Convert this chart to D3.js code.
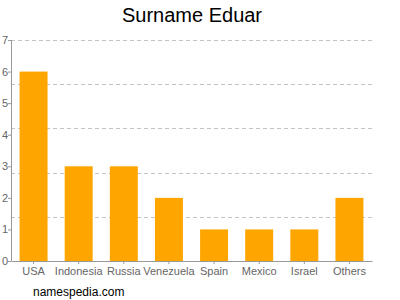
<!DOCTYPE html>
<html>
<head>
<meta charset="utf-8">
<script src="https://cdn.jsdelivr.net/npm/d3@7"></script>
<style>
body { margin: 0; background: #fff; }
svg { font-family: "Liberation Sans", Arial, sans-serif; }
</style>
</head>
<body>
<script>
var countries = ["USA", "Indonesia", "Russia", "Venezuela", "Spain", "Mexico", "Israel", "Others"];
var counts = [6, 3, 3, 2, 1, 1, 1, 2];
var yTicks = [0, 1, 2, 3, 4, 5, 6, 7];
var gridLines = [1.4, 2.8, 4.2, 5.6, 7];

var margin = { top: 40, right: 28, bottom: 39, left: 11 },
    width = 400 - margin.left - margin.right,
    height = 300 - margin.top - margin.bottom;

var svg = d3.select("body").append("svg")
    .attr("width", 400)
    .attr("height", 300);

svg.append("text")
    .attr("x", 192)
    .attr("y", 22)
    .attr("text-anchor", "middle")
    .style("font-size", "20px")
    .style("fill", "#000")
    .text("Surname Eduar");

var g = svg.append("g")
    .attr("transform", "translate(" + margin.left + "," + margin.top + ")");

var x = d3.scaleBand()
    .domain(countries)
    .range([0, width])
    .paddingInner(0.38)
    .paddingOuter(0.19);

var y = d3.scaleLinear()
    .domain([0, 7])
    .range([height, 0]);

// dashed grid
g.selectAll(".grid")
    .data(gridLines)
    .enter().append("line")
    .attr("class", "grid")
    .attr("x1", 0)
    .attr("x2", width + 1)
    .attr("y1", function (d) { return Math.round(y(d)) + 0.5; })
    .attr("y2", function (d) { return Math.round(y(d)) + 0.5; })
    .attr("stroke", "#c4c4c4")
    .attr("stroke-dasharray", "4,3");

// bars
g.selectAll(".bar")
    .data(counts)
    .enter().append("rect")
    .attr("class", "bar")
    .attr("x", function (d, i) { return x(countries[i]); })
    .attr("width", x.bandwidth())
    .attr("y", function (d) { return y(d); })
    .attr("height", function (d) { return height - y(d); })
    .attr("fill", "#ffa500");

// y axis
var yAxis = g.append("g")
    .call(d3.axisLeft(y).tickValues(yTicks).tickSize(3).tickFormat(d3.format("d")));
yAxis.select(".domain").attr("stroke", "#999").attr("d", "M0.5,0V" + height);
yAxis.selectAll(".tick line").attr("stroke", "#999");
yAxis.selectAll("text").attr("x", -3).style("font-size", "11px").style("fill", "#666");

// x axis
var xAxis = g.append("g")
    .attr("transform", "translate(0," + height + ")")
    .call(d3.axisBottom(x).tickSize(3).tickSizeOuter(0));
xAxis.select(".domain").attr("stroke", "#999");
xAxis.selectAll(".tick line").attr("stroke", "#999");
xAxis.selectAll("text").attr("y", 6).style("font-size", "11px").style("fill", "#666");

svg.append("text")
    .attr("x", 33)
    .attr("y", 296)
    .style("font-size", "12px")
    .style("fill", "#000")
    .text("namespedia.com");
</script>
</body>
</html>
